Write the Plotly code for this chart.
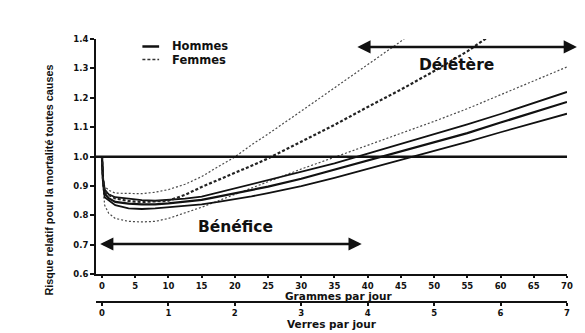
import plotly.graph_objects as go

# ---- data ----
grammes = [0, 0.15, 0.4, 1, 2, 4, 6, 8, 10, 12.5, 15, 17.5, 20, 22.5, 25,
           30, 35, 40, 45, 50, 55, 60, 65, 70]

hommes_rr = [1.0, 0.92, 0.875, 0.859, 0.846, 0.840, 0.838, 0.838, 0.841, 0.846,
             0.853, 0.864, 0.875, 0.886, 0.898, 0.925, 0.956, 0.988, 1.018,
             1.049, 1.080, 1.116, 1.151, 1.186]
hommes_haut = [1.0, 0.925, 0.888, 0.872, 0.862, 0.856, 0.852, 0.850, 0.852, 0.857,
               0.864, 0.878, 0.893, 0.908, 0.922, 0.948, 0.977, 1.010, 1.043,
               1.075, 1.110, 1.145, 1.182, 1.220]
hommes_bas = [1.0, 0.915, 0.862, 0.852, 0.835, 0.824, 0.822, 0.824, 0.828, 0.832,
              0.838, 0.846, 0.855, 0.865, 0.876, 0.900, 0.928, 0.958, 0.990,
              1.020, 1.050, 1.083, 1.115, 1.146]

femmes_bas = [1.0, 0.90, 0.835, 0.808, 0.790, 0.780, 0.778, 0.780, 0.790, 0.808,
              0.828, 0.850, 0.872, 0.894, 0.915, 0.958, 0.998, 1.038, 1.078,
              1.120, 1.163, 1.210, 1.257, 1.305]

femmes_x = [0, 0.15, 0.4, 1, 2, 4, 6, 8, 10, 12.5, 15, 17.5, 20, 22.5, 25,
            30, 35, 40, 45, 50, 55, 58]
femmes_rr = [1.0, 0.925, 0.885, 0.870, 0.858, 0.849, 0.846, 0.847, 0.850, 0.870,
             0.897, 0.921, 0.944, 0.969, 0.994, 1.052, 1.108, 1.169, 1.228,
             1.291, 1.358, 1.405]

femmes_haut_x = [0, 0.15, 0.4, 1, 2, 4, 6, 8, 10, 12.5, 15, 17.5, 20, 22.5, 25,
                 30, 35, 40, 45, 46]
femmes_haut = [1.0, 0.93, 0.90, 0.886, 0.876, 0.874, 0.874, 0.879, 0.888, 0.906,
               0.932, 0.966, 0.999, 1.040, 1.077, 1.155, 1.233, 1.312, 1.392, 1.41]

grammes_ticks = list(range(0, 75, 5))
verres_ticks = list(range(0, 8))
rr_ticks = [0.6, 0.7, 0.8, 0.9, 1.0, 1.1, 1.2, 1.3, 1.4]

ref_rr = 1.0
benefice_rr = 0.703
benefice_end = 39.1
deletere_rr = 1.373

FONT = "DejaVu Sans"
INK = "#111111"

fig = go.Figure()

# women confidence bounds (thin dashed)
for xs, ys in [(femmes_haut_x, femmes_haut), (grammes, femmes_bas)]:
    fig.add_trace(go.Scatter(x=xs, y=ys, mode="lines",
                             line=dict(color="#4a4a4a", width=1.2, dash="2px,2px"),
                             showlegend=False, hoverinfo="skip"))
# men (solid)
for ys, w in [(hommes_haut, 1.8), (hommes_rr, 2.2), (hommes_bas, 1.8)]:
    fig.add_trace(go.Scatter(x=grammes, y=ys, mode="lines",
                             line=dict(color=INK, width=w),
                             showlegend=False, hoverinfo="skip"))
# women central (thick dashed)
fig.add_trace(go.Scatter(x=femmes_x, y=femmes_rr, mode="lines",
                         line=dict(color="#222222", width=2.2, dash="3px,2px"),
                         showlegend=False, hoverinfo="skip"))
# dummy trace for second (glasses) axis
fig.add_trace(go.Scatter(x=verres_ticks, y=[None] * len(verres_ticks),
                         xaxis="x2", yaxis="y", mode="lines",
                         showlegend=False, hoverinfo="skip"))

# reference line at RR = 1
fig.add_shape(type="line", xref="paper", yref="y", x0=0, x1=1,
              y0=ref_rr, y1=ref_rr, line=dict(color=INK, width=2.5))

# legend (drawn manually)
fig.add_shape(type="line", xref="paper", yref="paper", x0=0.0985, x1=0.134,
              y0=0.9715, y1=0.9715, line=dict(color=INK, width=2.5))
fig.add_shape(type="line", xref="paper", yref="paper", x0=0.0985, x1=0.134,
              y0=0.922, y1=0.922, line=dict(color="#333", width=1.5, dash="3px,2px"))

annotations = [
    dict(text="Hommes", x=0.157, y=0.9715, xref="paper", yref="paper",
         xanchor="left", yanchor="middle", showarrow=False,
         font=dict(family=FONT, size=11.5, color=INK, weight="bold")),
    dict(text="Femmes", x=0.157, y=0.922, xref="paper", yref="paper",
         xanchor="left", yanchor="middle", showarrow=False,
         font=dict(family=FONT, size=11.5, color=INK, weight="bold")),
    dict(text="Bénéfice", x=20.1, y=0.761, xref="x", yref="y",
         showarrow=False, font=dict(family=FONT, size=15.5, color=INK, weight="bold")),
    dict(text="Délétère", x=53.4, y=1.312, xref="x", yref="y",
         showarrow=False, font=dict(family=FONT, size=15.5, color=INK, weight="bold")),
    # Bénéfice arrow
    dict(text="", x=benefice_end, y=benefice_rr, xref="x", yref="y",
         ax=-0.5, ay=benefice_rr, axref="x", ayref="y",
         showarrow=True, arrowhead=2, startarrowhead=2, arrowside="end+start",
         arrowsize=1.1, arrowwidth=2.4, arrowcolor=INK, standoff=0, startstandoff=0),
    # Délétère arrow (right head at the page edge)
    dict(text="", x=1.021, y=deletere_rr, xref="paper", yref="y",
         ax=-221, ay=0, axref="pixel", ayref="pixel",
         showarrow=True, arrowhead=2, startarrowhead=2, arrowside="end+start",
         arrowsize=1.1, arrowwidth=2.4, arrowcolor=INK, standoff=0, startstandoff=0),
    # axis titles
    dict(text="Risque relatif pour la mortalité toutes causes", x=-0.1006, y=0.464,
         xref="paper", yref="paper", textangle=-90, showarrow=False,
         xanchor="center", yanchor="middle",
         font=dict(family="Liberation Sans", size=10.8, color=INK, weight="bold")),
    dict(text="Grammes par jour", x=0.5157, y=0.0245, xref="paper", yref="paper",
         showarrow=False, xanchor="center", yanchor="middle",
         font=dict(family=FONT, size=10.5, color=INK, weight="bold")),
    dict(text="Verres par jour", x=0.50, y=-0.0855, xref="paper", yref="paper",
         showarrow=False, xanchor="center", yanchor="middle",
         font=dict(family=FONT, size=10.5, color=INK, weight="bold")),
]

tickfont = dict(family=FONT, size=8.5, color=INK, weight="bold")

fig.update_layout(
    width=585, height=333,
    margin=dict(l=96, r=12, t=39, b=31),
    paper_bgcolor="white", plot_bgcolor="white",
    showlegend=False,
    annotations=annotations,
    xaxis=dict(range=[-0.9, 70], tickvals=grammes_ticks, showgrid=False,
               zeroline=False, showline=True, linecolor=INK, linewidth=2,
               ticks="outside", ticklen=2, tickwidth=1.5, tickcolor=INK,
               tickfont=tickfont, anchor="y"),
    xaxis2=dict(range=[-0.0892, 7], tickvals=verres_ticks, overlaying="x",
                anchor="free", position=0, side="bottom", showgrid=False,
                zeroline=False, showline=True, linecolor=INK, linewidth=1.5,
                ticks="outside", ticklen=3, tickwidth=1.5, tickcolor=INK,
                tickfont=tickfont),
    yaxis=dict(range=[0.6, 1.4], domain=[0.1053, 1], tickvals=rr_ticks,
               tickformat=".1f", showgrid=False, zeroline=False, showline=True,
               linecolor=INK, linewidth=2, ticks="outside", ticklen=4,
               tickwidth=1.5, tickcolor=INK, tickfont=tickfont),
)

fig.write_html("out.html", config={"displayModeBar": False},
               post_script="document.body.style.margin='0';document.body.style.overflow='hidden';")
